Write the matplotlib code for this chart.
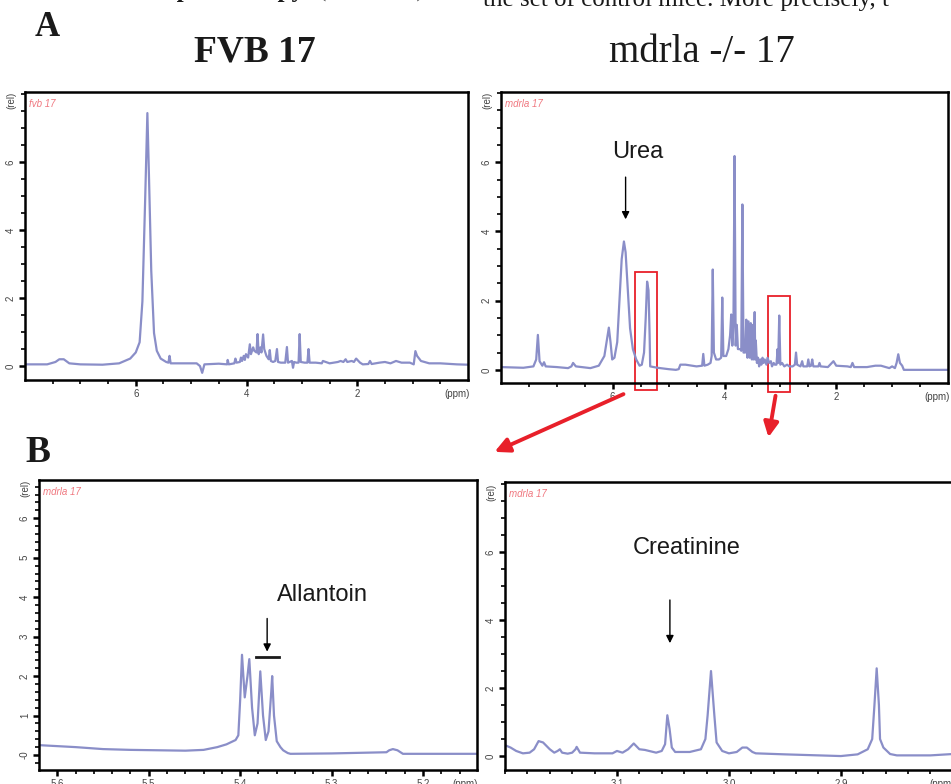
import matplotlib
matplotlib.use('Agg')
import matplotlib.pyplot as plt
import numpy as np
from matplotlib.patches import Rectangle

# spectra (ppm, relative intensity)
fvb_ppm = [8.0, 7.6, 7.45, 7.38, 7.3, 7.2, 7.0, 6.6, 6.3, 6.1, 6.0, 5.93, 5.88, 5.83, 5.79, 5.76, 5.72, 5.67,
           5.62, 5.55, 5.45, 5.41, 5.39, 5.37, 5.2, 4.9, 4.84, 4.80, 4.76, 4.5, 4.35, 4.34, 4.32, 4.22, 4.20,
           4.18, 4.12, 4.10, 4.08, 4.05, 4.03, 4.01, 3.97, 3.94, 3.92, 3.88, 3.86, 3.82, 3.80, 3.78, 3.75,
           3.73, 3.70, 3.68, 3.64, 3.60, 3.58, 3.56, 3.52, 3.48, 3.45, 3.43, 3.38, 3.30, 3.27, 3.25, 3.18,
           3.16, 3.14, 3.10, 3.06, 3.04, 3.02, 2.95, 2.90, 2.88, 2.86, 2.75, 2.64, 2.62, 2.5, 2.35, 2.30,
           2.25, 2.21, 2.18, 2.10, 2.06, 2.02, 1.95, 1.90, 1.80, 1.77, 1.74, 1.60, 1.50, 1.40, 1.30, 1.20,
           1.05, 0.98, 0.95, 0.92, 0.85, 0.7, 0.5, 0.2, 0.0]
fvb_rel = [0.05, 0.05, 0.12, 0.2, 0.2, 0.08, 0.05, 0.04, 0.08, 0.22, 0.4, 0.7, 1.9, 4.9, 7.44, 5.5, 2.8, 0.97,
           0.45, 0.22, 0.12, 0.1, 0.3, 0.08, 0.08, 0.08, 0.0, -0.2, 0.05, 0.07, 0.05, 0.18, 0.05, 0.08, 0.22,
           0.1, 0.12, 0.25, 0.15, 0.3, 0.18, 0.35, 0.25, 0.64, 0.35, 0.55, 0.45, 0.4, 0.94, 0.35, 0.55,
           0.4, 0.93, 0.5, 0.3, 0.2, 0.47, 0.15, 0.12, 0.15, 0.5, 0.12, 0.1, 0.1, 0.56, 0.1, 0.15,
           -0.05, 0.12, 0.1, 0.1, 0.94, 0.12, 0.1, 0.1, 0.5, 0.1, 0.1, 0.08, 0.15, 0.08, 0.12, 0.15,
           0.12, 0.2, 0.12, 0.15, 0.12, 0.22, 0.1, 0.05, 0.06, 0.15, 0.06, 0.1, 0.12, 0.08, 0.15, 0.1,
           0.1, 0.05, 0.44, 0.3, 0.15, 0.08, 0.08, 0.05, 0.04]

mdr_ppm = [8.0, 7.6, 7.42, 7.37, 7.34, 7.31, 7.26, 7.23, 7.2, 7.0, 6.8, 6.74, 6.71, 6.66, 6.4, 6.25, 6.15,
           6.10, 6.07, 6.04, 6.01, 5.97, 5.92, 5.88, 5.84, 5.80, 5.77, 5.73, 5.69, 5.64, 5.58, 5.52, 5.48,
           5.44, 5.41, 5.385, 5.36, 5.34, 5.33, 5.2, 5.0, 4.87, 4.82, 4.79, 4.7, 4.5, 4.40, 4.38, 4.36,
           4.30, 4.25, 4.23, 4.21, 4.19, 4.15, 4.10, 4.06, 4.04, 4.02, 3.97, 3.93, 3.90, 3.88, 3.86, 3.84,
           3.82, 3.80, 3.78, 3.76, 3.72, 3.70, 3.68, 3.66, 3.63, 3.61, 3.59, 3.57, 3.55, 3.53, 3.51, 3.49,
           3.48, 3.46, 3.45, 3.44, 3.42, 3.40, 3.38, 3.36, 3.34, 3.32, 3.30, 3.28, 3.25, 3.23, 3.20, 3.17,
           3.15, 3.12, 3.10, 3.07, 3.05, 3.04, 3.02, 3.00, 2.97, 2.93, 2.88, 2.84, 2.78, 2.74, 2.72, 2.70,
           2.64, 2.61, 2.59, 2.52, 2.50, 2.48, 2.45, 2.43, 2.41, 2.32, 2.30, 2.28, 2.15, 2.08, 2.05, 2.00,
           1.80, 1.74, 1.71, 1.68, 1.45, 1.30, 1.20, 1.05, 1.00, 0.95, 0.92, 0.89, 0.86, 0.82, 0.79, 0.0]
mdr_rel = [0.08, 0.06, 0.1, 0.3, 1.01, 0.25, 0.12, 0.22, 0.1, 0.08, 0.05, 0.1, 0.2, 0.1, 0.05, 0.12, 0.4,
           0.9, 1.22, 0.8, 0.3, 0.35, 0.8, 2.0, 3.2, 3.71, 3.4, 2.3, 1.2, 0.6, 0.3, 0.12, 0.15,
           0.5, 1.5, 2.55, 2.3, 1.0, 0.1, 0.06, 0.02, 0.0, 0.02, 0.15, 0.15, 0.1, 0.12, 0.46, 0.12,
           0.15, 0.2, 0.4, 2.9, 0.5, 0.3, 0.3, 0.35, 2.09, 0.4, 0.4, 0.6, 1.0, 1.6, 0.7, 1.3,
           6.18, 0.7, 1.3, 0.6, 0.6, 0.55, 4.78, 0.5, 0.5, 1.45, 0.35, 1.4, 0.35, 1.35, 0.3, 1.3,
           0.3, 1.67, 0.3, 0.85, 0.2, 0.35, 0.1, 0.3, 0.15, 0.35, 0.2, 0.3, 0.15, 0.35, 0.2, 0.25,
           0.1, 0.2, 0.15, 0.15, 0.6, 0.2, 1.57, 0.15, 0.2, 0.1, 0.15, 0.1, 0.1, 0.15, 0.5, 0.15,
           0.1, 0.25, 0.1, 0.1, 0.3, 0.1, 0.12, 0.3, 0.1, 0.1, 0.2, 0.1, 0.08, 0.2, 0.25, 0.12,
           0.1, 0.08, 0.2, 0.08, 0.08, 0.12, 0.12, 0.05, 0.1, 0.05, 0.2, 0.45, 0.2, 0.12, 0.0, 0.0]

allan_ppm = [5.62, 5.58, 5.55, 5.52, 5.49, 5.46, 5.44, 5.425, 5.415, 5.405, 5.402, 5.400, 5.398, 5.395,
             5.392, 5.390, 5.387, 5.384, 5.381, 5.378, 5.375, 5.372, 5.369, 5.366, 5.365, 5.363, 5.360,
             5.356, 5.353, 5.348, 5.345, 5.3, 5.26, 5.24, 5.237, 5.233, 5.228, 5.222, 5.18, 5.141]
allan_rel = [0.25, 0.2, 0.15, 0.13, 0.12, 0.11, 0.13, 0.2, 0.27, 0.38, 0.5, 1.4, 2.54, 1.46,
             2.0, 2.43, 1.2, 0.5, 0.8, 2.12, 1.0, 0.38, 0.6, 1.6, 2.0, 1.0, 0.35,
             0.2, 0.12, 0.05, 0.03, 0.04, 0.06, 0.07, 0.12, 0.15, 0.12, 0.03, 0.03, 0.03]

creat_ppm = [3.20, 3.195, 3.19, 3.184, 3.178, 3.174, 3.17, 3.166, 3.16, 3.156, 3.153, 3.151, 3.149, 3.144,
             3.14, 3.137, 3.136, 3.133, 3.12, 3.104, 3.1, 3.095, 3.09, 3.085, 3.08, 3.075, 3.065, 3.06,
             3.057, 3.055, 3.053, 3.051, 3.048, 3.035, 3.025, 3.021, 3.019, 3.016, 3.013, 3.011, 3.006,
             3.0, 2.993, 2.988, 2.984, 2.979, 2.976, 2.95, 2.92, 2.90, 2.885, 2.876, 2.872, 2.870, 2.868,
             2.866, 2.865, 2.862, 2.856, 2.85, 2.82, 2.80, 2.79]
creat_rel = [0.32, 0.25, 0.15, 0.08, 0.1, 0.2, 0.44, 0.4, 0.2, 0.1, 0.15, 0.2, 0.1, 0.07,
             0.1, 0.2, 0.27, 0.1, 0.08, 0.08, 0.15, 0.1, 0.2, 0.37, 0.2, 0.18, 0.1, 0.15,
             0.35, 1.2, 0.8, 0.25, 0.12, 0.12, 0.2, 0.5, 1.2, 2.5, 1.2, 0.4, 0.15,
             0.08, 0.12, 0.25, 0.25, 0.12, 0.08, 0.05, 0.02, 0.0, 0.05, 0.2, 0.5, 1.5, 2.58,
             1.5, 0.5, 0.25, 0.06, 0.02, 0.02, 0.06, 0.08]

line_col = '#8a8ec8'
red = '#e8202a'
W, H = 951, 784

fig = plt.figure(figsize=(W / 100, H / 100), dpi=100)


def make_axes(left, top, right, bottom):
    return fig.add_axes([left / W, 1 - bottom / H, (right - left) / W, (bottom - top) / H])


def style(ax, ppm, rel, name, xlim, ylim, xmaj, xlab, xmin, ymaj, ylab, ymin, ppm_pos, rel_pos):
    ax.plot(ppm, rel, color=line_col, lw=1.6)
    ax.set_xlim(*xlim)
    ax.set_ylim(*ylim)
    ax.set_xticks(list(xmaj) + [ppm_pos])
    ax.set_xticklabels(list(xlab) + ['(ppm)'])
    ax.set_xticks(xmin, minor=True)
    ax.set_yticks(list(ymaj) + [rel_pos])
    ax.set_yticklabels(list(ylab) + ['(rel)'])
    ax.set_yticks(ymin, minor=True)
    ax.xaxis.get_major_ticks()[-1].tick1line.set_visible(False)
    ax.yaxis.get_major_ticks()[-1].tick1line.set_visible(False)
    ax.tick_params(which='major', length=4.5, width=1.8, labelsize=7, labelcolor='#444444', pad=2)
    ax.tick_params(which='minor', length=3, width=1.2)
    for lab in ax.get_xticklabels() + ax.get_yticklabels():
        lab.set_family('Liberation Sans')
    plt.setp(ax.get_yticklabels(), rotation=90, va='center')
    for s in ax.spines.values():
        s.set_linewidth(1.8)
    ax.text(0.008, 0.975, name, transform=ax.transAxes, va='top', ha='left', fontsize=7,
            style='italic', color='#f07880', family='Liberation Sans')


ax_tl = make_axes(25, 92, 468, 380)
style(ax_tl, fvb_ppm, fvb_rel, 'fvb 17', (8.0, 0.0), (-0.41, 8.06),
      [6, 4, 2], ['6', '4', '2'], np.arange(0.5, 8.0, 0.5),
      [0, 2, 4, 6], ['0', '2', '4', '6'], np.arange(0.5, 8.01, 0.5), 0.2, 7.8)

ax_tr = make_axes(501, 92, 948, 383)
style(ax_tr, mdr_ppm, mdr_rel, 'mdrla 17', (8.0, 0.0), (-0.38, 8.03),
      [6, 4, 2], ['6', '4', '2'], np.arange(0.5, 8.0, 0.5),
      [0, 2, 4, 6], ['0', '2', '4', '6'], np.arange(0.5, 8.01, 0.5), 0.2, 7.8)

ax_bl = make_axes(39, 480, 477, 770)
style(ax_bl, allan_ppm, allan_rel, 'mdrla 17', (5.62, 5.141), (-0.38, 6.97),
      [5.6, 5.5, 5.4, 5.3, 5.2], ['5.6', '5.5', '5.4', '5.3', '5.2'], np.arange(5.16, 5.62, 0.02),
      [0, 1, 2, 3, 4, 5, 6], ['-0', '1', '2', '3', '4', '5', '6'], np.arange(-0.2, 6.9, 0.2),
      5.154, 6.77)

ax_br = make_axes(505, 482, 964, 770)
style(ax_br, creat_ppm, creat_rel, 'mdrla 17', (3.2, 2.79), (-0.41, 8.06),
      [3.1, 3.0, 2.9], ['3.1', '3.0', '2.9'], np.arange(2.80, 3.2, 0.02),
      [0, 2, 4, 6], ['0', '2', '4', '6'], np.arange(0.5, 8.01, 0.5), 2.81, 7.76)

# red boxes on the mdrla spectrum
for x0, x1, y0, y1 in [(5.61, 5.20, -0.58, 2.84), (3.23, 2.82, -0.64, 2.14)]:
    ax_tr.add_patch(Rectangle((x0, y0), x1 - x0, y1 - y0, fill=False, ec=red, lw=1.3, clip_on=False))

# red arrows to the zoomed panels
for start, end in [((626, 393), (492, 453)), ((776, 393), (768, 440))]:
    ax_tr.annotate('', xy=(end[0], H - end[1]), xycoords='figure pixels',
                   xytext=(start[0], H - start[1]), textcoords='figure pixels',
                   arrowprops=dict(arrowstyle='-|>', color=red, lw=2.8, mutation_scale=22),
                   annotation_clip=False)

# metabolite labels
lab_kw = dict(fontsize=17, family='Liberation Sans', color='#1a1a1a', ha='center', va='center')
black_arrow = dict(arrowstyle='-|>', color='black', lw=1.0, mutation_scale=11, shrinkA=0, shrinkB=0)

ax_tr.text(5.55, 6.29, 'Urea', **lab_kw)
ax_tr.annotate('', xy=(5.77, 4.35), xytext=(5.77, 5.57), arrowprops=black_arrow)

ax_bl.text(5.31, 4.05, 'Allantoin', **lab_kw)
ax_bl.annotate('', xy=(5.3705, 2.62), xytext=(5.3705, 3.46), arrowprops=black_arrow)
ax_bl.plot([5.3825, 5.3574], [2.49, 2.49], color='#1a1a1a', lw=2)

ax_br.text(3.0375, 6.12, 'Creatinine', **lab_kw)
ax_br.annotate('', xy=(3.0527, 3.32), xytext=(3.0527, 4.59), arrowprops=black_arrow)

# panel titles and letters
serif = 'Liberation Serif'
fig.text(255 / W, 1 - 62 / H, 'FVB 17', ha='center', va='baseline', fontsize=27,
         fontweight='bold', family=serif, color='#1a1a1a')
fig.text(702 / W, 1 - 62 / H, 'mdrla -/- 17', ha='center', va='baseline', fontsize=28,
         family=serif, color='#1a1a1a')
fig.text(35 / W, 1 - 36 / H, 'A', ha='left', va='baseline', fontsize=25, fontweight='bold',
         family=serif, color='#1a1a1a')
fig.text(25 / W, 1 - 462 / H, 'B', ha='left', va='baseline', fontsize=27, fontweight='bold',
         family=serif, color='#1a1a1a')

# running text of the page, mostly cut off by the crop
fig.text(167 / W, 1 + 3 / H, 'spectroscopy', ha='left', va='baseline', fontsize=18,
         fontweight='bold', family=serif, color='#1a1a1a')
fig.text(318 / W, 1 + 3 / H, '(\u00b9H-NMR),', ha='left', va='baseline', fontsize=18,
         family=serif, color='#555555')
fig.text(483 / W, 1 - 6 / H, 'the set of control mice. More precisely, t', ha='left', va='baseline',
         fontsize=18, family=serif, color='#1a1a1a')

fig.savefig('out.png', dpi=100)
